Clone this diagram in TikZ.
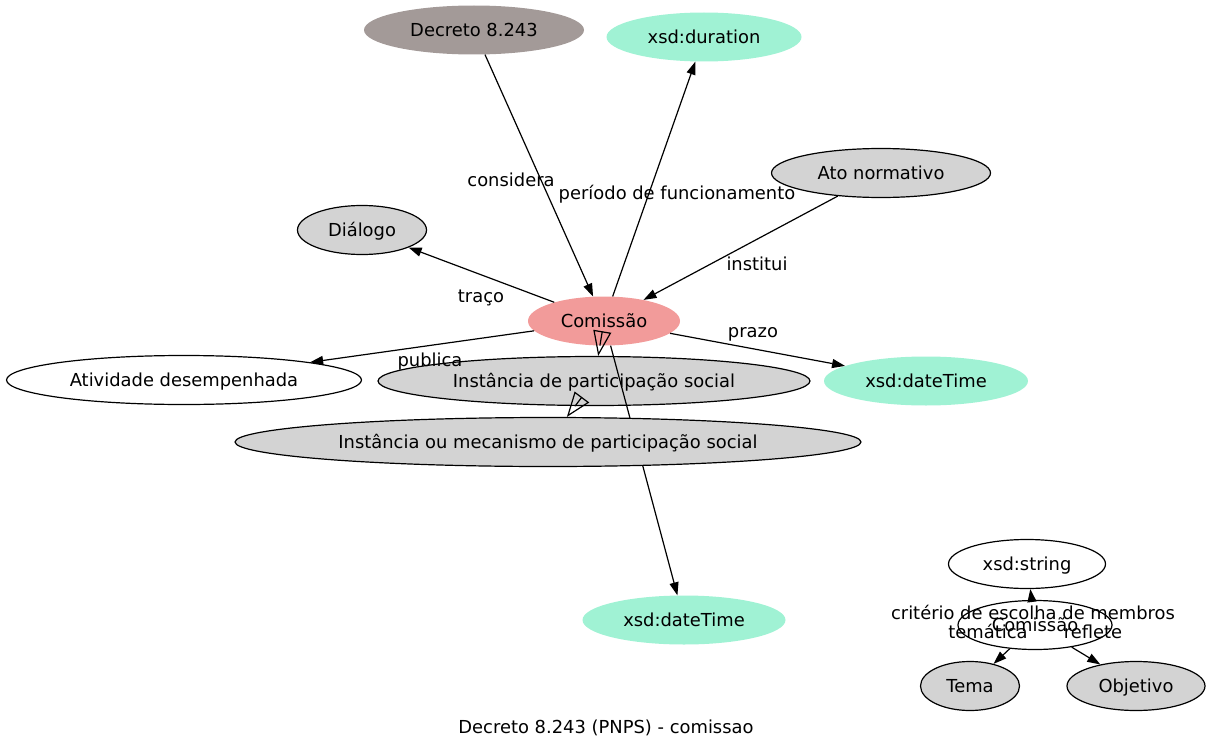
\documentclass[tikz,border=0pt]{standalone}
\usepackage{fontspec}
\setmainfont{DejaVu Sans}
\usepackage{xcolor}
\usetikzlibrary{shapes.geometric,arrows.meta}
\definecolor{decretogray}{RGB}{163,154,152}
\definecolor{xsdgreen}{RGB}{160,242,212}
\definecolor{comissaored}{RGB}{242,155,154}
\definecolor{classgray}{RGB}{211,211,211}
\tikzset{
    % Le style de base : une ellipse avec le texte au centre
    base_node/.style={
        ellipse,
        inner sep=0pt,
        minimum height=49pt,
        text height=15pt,
        text depth=2pt,
        font=\fontsize{17.9}{21}\selectfont
    },
    % Les classes du modèle (grises, bord noir)
    gray_class/.style={base_node, fill=classgray, draw=black, line width=1.2pt},
    % Les classes sans couleur
    plain_class/.style={base_node, fill=white, draw=black, line width=1.2pt},
    % Les types de données xsd
    xsd_type/.style={base_node, fill=xsdgreen},
    % La classe centrale et le décret
    focus_class/.style={base_node, fill=comissaored},
    source_class/.style={base_node, fill=decretogray},
    % Les relations et les sous-classes
    relation/.style={-{Triangle[length=13pt,width=9pt]}, line width=1.2pt},
    subclass/.style={-{Triangle[open,length=25pt,width=18pt]}, line width=1.2pt},
    edge_label/.style={inner sep=0pt, text height=15pt, text depth=2pt,
        font=\fontsize{17.9}{21}\selectfont}
}

\begin{document}
\begin{tikzpicture}[x=1pt,y=-1pt]
        \useasboundingbox (0,0) rectangle (1213,752);

        % --- 1. Les noeuds du graphe principal ---
        \node[source_class, minimum width=220pt] (decreto) at (474,30) {Decreto 8.243};
        \node[xsd_type, minimum width=195pt] (duracao) at (704,37) {xsd:duration};
        \node[gray_class, minimum width=219pt] (ato) at (881,173) {Ato normativo};
        \node[gray_class, minimum width=129pt] (dialogo) at (362,230) {Diálogo};
        \node[focus_class, minimum width=152pt] (comissao) at (604,321) {Comissão};
        \node[plain_class, minimum width=355pt] (atividade) at (184,380) {Atividade desempenhada};
        \node[gray_class, minimum width=432pt] (instancia) at (594,381) {Instância de participação social};
        \node[xsd_type, minimum width=204pt] (datetimeA) at (926,381) {xsd:dateTime};
        \node[xsd_type, minimum width=203pt] (datetimeB) at (684,620) {xsd:dateTime};

        % Cette arête passe sous la grande ellipse : on la trace avant
        \draw[relation] (comissao) -- (datetimeB);
        \node[gray_class, minimum width=626pt] (mecanismo) at (548,442) {Instância ou mecanismo de participação social};

        % --- 2. Les relations ---
        \draw[relation] (decreto) -- (comissao);
        \draw[relation] (comissao) -- (duracao);
        \draw[relation] (ato) -- (comissao);
        \draw[relation] (comissao) -- (dialogo);
        \draw[relation] (comissao) -- (atividade);
        \draw[relation] (comissao) -- (datetimeA);
        \draw[subclass] (comissao) -- (instancia);
        \draw[subclass] (instancia) -- (mecanismo);

        % --- 3. Le petit graphe en bas à droite ---
        \node[plain_class, minimum width=157pt] (string) at (1027,564) {xsd:string};
        \node[plain_class, minimum width=154pt] (comissaoB) at (1035,625) {Comissão};
        \node[gray_class, minimum width=99pt] (tema) at (970,686) {Tema};
        \node[gray_class, minimum width=138pt] (objetivo) at (1136,686) {Objetivo};
        \draw[relation] (comissaoB) -- (string);
        \draw[relation] (comissaoB) -- (tema);
        \draw[relation] (comissaoB) -- (objetivo);

        % --- 4. Les étiquettes et le titre ---
        \node[edge_label] (l_considera) at (511,180) {considera};
        \node[edge_label] (l_periodo) at (677,193) {período de funcionamento};
        \node[edge_label] (l_institui) at (757,264) {institui};
        \node[edge_label] (l_traco) at (481,296) {traço};
        \node[edge_label] (l_publica) at (430,360) {publica};
        \node[edge_label] (l_prazo) at (753,331) {prazo};
        \node[edge_label] (l_criterio) at (1033,613) {critério de escolha de membros};
        \node[edge_label] (l_tematica) at (988,632) {temática};
        \node[edge_label] (l_reflete) at (1093,632) {reflete};
        \node[edge_label] (titulo) at (606,727) {Decreto 8.243 (PNPS) - comissao};
    \end{tikzpicture}
\end{document}
